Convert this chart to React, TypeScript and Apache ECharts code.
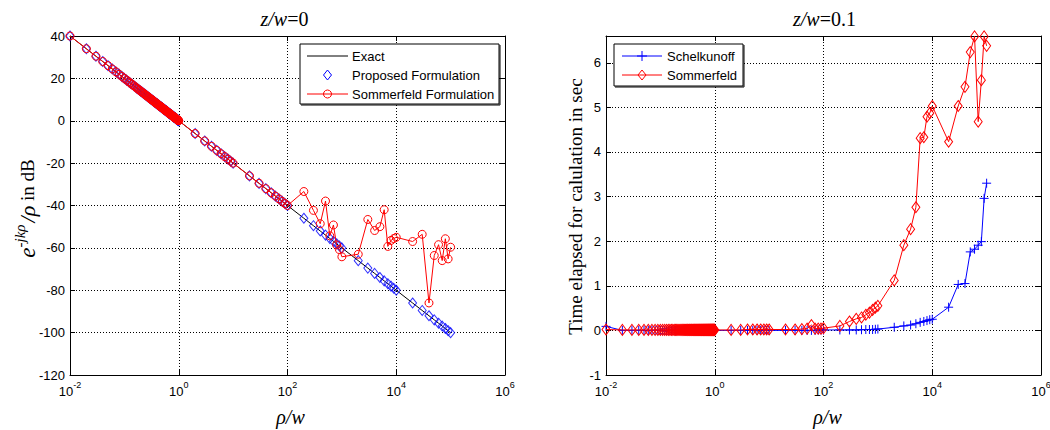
import React, { useEffect, useRef } from "react";
import * as echarts from "echarts";

// ρ/w sample points shared by every curve
const rhoFine = [
  0.01, 0.02, 0.03, 0.04, 0.05, 0.06, 0.07, 0.08, 0.09, 0.1,
  0.11, 0.12, 0.13, 0.14, 0.15, 0.16, 0.17, 0.18, 0.19, 0.2,
  0.21, 0.22, 0.23, 0.24, 0.25, 0.26, 0.27, 0.28, 0.29, 0.3,
  0.31, 0.32, 0.33, 0.34, 0.35, 0.36, 0.37, 0.38, 0.39, 0.4,
  0.41, 0.42, 0.43, 0.44, 0.45, 0.46, 0.47, 0.48, 0.49, 0.5,
  0.51, 0.52, 0.53, 0.54, 0.55, 0.56, 0.57, 0.58, 0.59, 0.6,
  0.61, 0.62, 0.63, 0.64, 0.65, 0.66, 0.67, 0.68, 0.69, 0.7,
  0.71, 0.72, 0.73, 0.74, 0.75, 0.76, 0.77, 0.78, 0.79, 0.8,
  0.81, 0.82, 0.83, 0.84, 0.85, 0.86, 0.87, 0.88, 0.89, 0.9,
  0.91, 0.92, 0.93, 0.94, 0.95, 0.96, 0.97, 0.98, 0.99, 1,
];
const rhoCoarse = [
  2, 3, 4, 5, 6, 7, 8, 9, 10,
  20, 30, 40, 50, 60, 70, 80, 90, 100,
  200, 300, 400, 500, 600, 700, 800, 900, 1000,
  2000, 3000, 4000, 5000, 6000, 7000, 8000, 9000, 10000,
  20000, 30000, 40000, 50000, 60000, 70000, 80000, 90000, 100000,
];
const rhoW = [...rhoFine, ...rhoCoarse];

// e^{-jkρ}/ρ magnitude in dB
const exactDb = [
  40.0, 33.98, 30.46, 27.96, 26.02, 24.44, 23.1, 21.94, 20.92, 20.0,
  19.17, 18.42, 17.72, 17.08, 16.48, 15.92, 15.39, 14.89, 14.42, 13.98,
  13.56, 13.15, 12.77, 12.4, 12.04, 11.7, 11.37, 11.06, 10.75, 10.46,
  10.17, 9.9, 9.63, 9.37, 9.12, 8.87, 8.64, 8.4, 8.18, 7.96,
  7.74, 7.54, 7.33, 7.13, 6.94, 6.74, 6.56, 6.38, 6.2, 6.02,
  5.85, 5.68, 5.51, 5.35, 5.19, 5.04, 4.88, 4.73, 4.58, 4.44,
  4.29, 4.15, 4.01, 3.88, 3.74, 3.61, 3.48, 3.35, 3.22, 3.1,
  2.97, 2.85, 2.73, 2.62, 2.5, 2.38, 2.27, 2.16, 2.05, 1.94,
  1.83, 1.72, 1.62, 1.51, 1.41, 1.31, 1.21, 1.11, 1.01, 0.92,
  0.82, 0.72, 0.63, 0.54, 0.45, 0.35, 0.26, 0.18, 0.09, 0.0,
  -6.02, -9.54, -12.04, -13.98, -15.56, -16.9, -18.06, -19.08, -20.0,
  -26.02, -29.54, -32.04, -33.98, -35.56, -36.9, -38.06, -39.08, -40.0,
  -46.02, -49.54, -52.04, -53.98, -55.56, -56.9, -58.06, -59.08, -60.0,
  -66.02, -69.54, -72.04, -73.98, -75.56, -76.9, -78.06, -79.08, -80.0,
  -86.02, -89.54, -92.04, -93.98, -95.56, -96.9, -98.06, -99.08, -100.0,
];
const proposedDb = [...exactDb];
// Sommerfeld follows the exact curve up to ρ/w = 100, then wanders off
const sommerfeldFarDb = [
  -33.4, -42.3, -48.6, -37.9, -54.3, -49.2, -58.6, -60.8, -64.2,
  -63.0, -46.6, -51.8, -50.0, -42.0, -59.3, -56.5, -55.6, -55.0,
  -57.0, -53.6, -86.0, -63.6, -58.5, -66.0, -55.7, -65.2, -59.7,
];
const sommerfeldDb = [...exactDb.slice(0, 118), ...sommerfeldFarDb];

// calculation time in seconds, z/w = 0.1
const schelkunoffSec = [
  0.09, 0, 0, 0, 0, 0, 0, 0, 0, 0,
  0, 0, 0, 0, 0, 0, 0, 0, 0, 0,
  0, 0, 0, 0, 0, 0, 0, 0, 0, 0,
  0, 0, 0, 0, 0, 0, 0, 0, 0, 0,
  0, 0, 0, 0, 0, 0, 0, 0, 0, 0,
  0, 0, 0, 0, 0, 0, 0, 0, 0, 0,
  0, 0, 0, 0, 0, 0, 0, 0, 0, 0,
  0, 0, 0, 0, 0, 0, 0, 0, 0, 0,
  0, 0, 0, 0, 0, 0, 0, 0, 0, 0,
  0, 0, 0, 0, 0, 0, 0, 0, 0, 0,
  0, 0, 0, 0, 0, 0, 0, 0, 0,
  0, 0, 0, 0, 0, 0, 0.01, 0.01, 0.01,
  0.01, 0.01, 0.01, 0.015, 0.02, 0.02, 0.02, 0.025, 0.03,
  0.07, 0.1, 0.12, 0.15, 0.18, 0.2, 0.22, 0.24, 0.25,
  0.52, 1.03, 1.05, 1.76, 1.82, 1.91, 1.99, 2.96, 3.3,
];
const sommerfeldSec = [
  0.02, 0.01, 0.01, 0.01, 0.01, 0.01, 0.01, 0.01, 0.01, 0.01,
  0.01, 0.01, 0.01, 0.01, 0.01, 0.01, 0.01, 0.01, 0.01, 0.01,
  0.01, 0.01, 0.01, 0.01, 0.01, 0.01, 0.01, 0.01, 0.01, 0.01,
  0.01, 0.01, 0.01, 0.01, 0.01, 0.01, 0.01, 0.01, 0.01, 0.01,
  0.01, 0.01, 0.01, 0.01, 0.01, 0.01, 0.01, 0.01, 0.01, 0.01,
  0.01, 0.01, 0.01, 0.01, 0.01, 0.01, 0.01, 0.01, 0.01, 0.01,
  0.01, 0.01, 0.01, 0.01, 0.01, 0.01, 0.01, 0.01, 0.01, 0.01,
  0.01, 0.01, 0.01, 0.01, 0.01, 0.01, 0.01, 0.01, 0.01, 0.01,
  0.01, 0.01, 0.01, 0.01, 0.01, 0.01, 0.01, 0.01, 0.01, 0.01,
  0.01, 0.01, 0.01, 0.01, 0.01, 0.01, 0.01, 0.01, 0.01, 0.01,
  0.01, 0.01, 0.02, 0.02, 0.02, 0.02, 0.02, 0.02, 0.02,
  0.02, 0.02, 0.03, 0.04, 0.12, 0.04, 0.04, 0.04, 0.05,
  0.1, 0.2, 0.26, 0.29, 0.35, 0.4, 0.46, 0.51, 0.55,
  1.12, 1.91, 2.27, 2.76, 4.31, 4.33, 4.79, 4.87, 5.03,
  4.23, 5.03, 5.46, 6.24, 6.59, 4.68, 5.61, 6.59, 6.38,
];

const dbAxis = { min: -120, max: 40, step: 20 };
const secAxis = { min: -1, max: 6.6, step: 1 };
const rhoAxis = { min: 0.01, max: 1e6 };
// ρ/w ticks, every second decade
const rhoTicks = [0.01, 1, 100, 10000, 1000000];

const legendLeft = ["Exact", "Proposed Formulation", "Sommerfeld Formulation"];
const legendRight = ["Schelkunoff", "Sommerfeld"];

const SANS = '"Liberation Sans", Arial, Helvetica, sans-serif';
const SERIF = '"Liberation Serif", "Times New Roman", Times, serif';
const BLUE = "#0000ff";
const RED = "#ff0000";
const NOFILL = "rgba(0,0,0,0)";

const GRIDS = [
  { left: 70, top: 36, width: 435, height: 339 },
  { left: 606, top: 36, width: 435, height: 339 },
];

const pairs = (ys: number[]) => rhoW.map((x, i) => [x, ys[i]]);

const boxLine = { show: true, onZero: false, lineStyle: { color: "#000", width: 1 } };
const tick = { show: true, inside: true, length: 5, lineStyle: { color: "#000", width: 1 } };
const dotted = { show: true, lineStyle: { color: "#000", width: 1, type: [1, 2] } };

function rhoXAxis(gridIndex: number, mirror: boolean) {
  return {
    type: "log",
    logBase: 10,
    gridIndex,
    position: mirror ? "top" : "bottom",
    min: rhoAxis.min,
    max: rhoAxis.max,
    splitNumber: 4,
    axisLine: boxLine,
    axisTick: { ...tick, customValues: rhoTicks },
    minorTick: { show: false },
    minorSplitLine: { show: false },
    splitLine: mirror ? { show: false } : dotted,
    axisLabel: mirror
      ? { show: false }
      : {
          show: true,
          margin: 5,
          color: "#000",
          customValues: rhoTicks,
          formatter: (v: number) => `{b|10}{s|${Math.round(Math.log10(v))}}`,
          rich: {
            b: { fontFamily: SANS, fontSize: 13, color: "#000", lineHeight: 22 },
            s: { fontFamily: SANS, fontSize: 9, color: "#000", lineHeight: 10, verticalAlign: "top" },
          },
        },
  };
}

function valueYAxis(
  gridIndex: number,
  mirror: boolean,
  ax: { min: number; max: number; step: number },
  showMax: boolean
) {
  return {
    type: "value",
    gridIndex,
    position: mirror ? "right" : "left",
    min: ax.min,
    max: ax.max,
    interval: ax.step,
    axisLine: boxLine,
    axisTick: tick,
    splitLine: mirror ? { show: false } : dotted,
    axisLabel: mirror
      ? { show: false }
      : {
          show: true,
          margin: 5,
          color: "#000",
          fontFamily: SANS,
          fontSize: 13,
          showMinLabel: true,
          showMaxLabel: showMax,
        },
  };
}

// ---- legend helpers (drawn as graphic elements on top of the plots) ----
const txt = (x: number, y: number, text: string) => ({
  type: "text",
  x,
  y,
  z: 101,
  style: { text, fontFamily: SANS, fontSize: 13, fill: "#000", align: "left", verticalAlign: "middle" },
});
const seg = (x1: number, x2: number, y: number, color: string) => ({
  type: "line",
  z: 101,
  shape: { x1, y1: y, x2, y2: y },
  style: { stroke: color, lineWidth: 1 },
});
const diamond = (cx: number, cy: number, color: string) => ({
  type: "polygon",
  z: 102,
  shape: { points: [[cx, cy - 5], [cx + 4, cy], [cx, cy + 5], [cx - 4, cy]] },
  style: { fill: NOFILL, stroke: color, lineWidth: 1 },
});
const ring = (cx: number, cy: number, color: string) => ({
  type: "circle",
  z: 102,
  shape: { cx, cy, r: 4 },
  style: { fill: NOFILL, stroke: color, lineWidth: 1 },
});
const plus = (cx: number, cy: number, color: string) => [
  { type: "line", z: 102, shape: { x1: cx - 5, y1: cy, x2: cx + 5, y2: cy }, style: { stroke: color, lineWidth: 1 } },
  { type: "line", z: 102, shape: { x1: cx, y1: cy - 5, x2: cx, y2: cy + 5 }, style: { stroke: color, lineWidth: 1 } },
];
const legendBox = (x: number, y: number, w: number, h: number) => [
  {
    type: "rect",
    z: 100,
    shape: { x, y, width: w, height: h },
    style: { fill: "#fff", stroke: "#000", lineWidth: 1 },
  },
  { type: "line", z: 100, shape: { x1: x + w + 1, y1: y + 1, x2: x + w + 1, y2: y + h + 1 }, style: { stroke: "#000", lineWidth: 1 } },
  { type: "line", z: 100, shape: { x1: x + 1, y1: y + h + 1, x2: x + w + 1, y2: y + h + 1 }, style: { stroke: "#000", lineWidth: 1 } },
];

const serifRich = (size: number) => ({
  i: { fontFamily: SERIF, fontStyle: "italic", fontSize: size, fill: "#000" },
  n: { fontFamily: SERIF, fontSize: size, fill: "#000" },
});

function buildOption() {
  const g0 = GRIDS[0];
  const g1 = GRIDS[1];
  const c0 = g0.left + g0.width / 2;
  const c1 = g1.left + g1.width / 2;
  const midY = g0.top + g0.height / 2;

  const graphic: any[] = [
    // panel titles
    { type: "text", x: c0 - 3, y: 19, style: { text: "{i|z/w}{n|=0}", rich: serifRich(20), align: "center", verticalAlign: "middle" } },
    { type: "text", x: c1 + 1, y: 19, style: { text: "{i|z/w}{n|=0.1}", rich: serifRich(20), align: "center", verticalAlign: "middle" } },
    // x-axis names
    { type: "text", x: c0 + 3, y: 417, style: { text: "{i|ρ/w}", rich: serifRich(20), align: "center", verticalAlign: "middle" } },
    { type: "text", x: c1 + 4, y: 417, style: { text: "{i|ρ/w}", rich: serifRich(20), align: "center", verticalAlign: "middle" } },
    // y-axis names
    {
      type: "text",
      x: 27,
      y: midY + 3,
      rotation: Math.PI / 2,
      style: {
        text: "{e|e}{s|-jkρ}{i|/ρ}{n| in dB}",
        align: "center",
        verticalAlign: "middle",
        rich: {
          e: { fontFamily: SERIF, fontStyle: "italic", fontSize: 23, lineHeight: 30, fill: "#000" },
          s: { fontFamily: SERIF, fontStyle: "italic", fontSize: 15, lineHeight: 15, verticalAlign: "top", fill: "#000" },
          i: { fontFamily: SERIF, fontStyle: "italic", fontSize: 22, lineHeight: 30, fill: "#000", padding: [0, 0, 0, 2] },
          n: { fontFamily: SERIF, fontSize: 19, lineHeight: 30, fill: "#000" },
        },
      },
    },
    {
      type: "text",
      x: 575,
      y: midY + 1,
      rotation: Math.PI / 2,
      style: {
        text: "Time elapsed for calulation in sec",
        fontFamily: SERIF,
        fontSize: 19,
        fill: "#000",
        align: "center",
        verticalAlign: "middle",
      },
    },
    // left legend
    ...legendBox(300, 44, 199, 60),
    seg(307, 348, 56, "#000"),
    txt(352, 56, legendLeft[0]),
    diamond(327.5, 75, BLUE),
    txt(352, 75, legendLeft[1]),
    seg(307, 348, 94, RED),
    ring(327.5, 94, RED),
    txt(352, 94, legendLeft[2]),
    // right legend
    ...legendBox(614, 44, 129, 42),
    seg(622, 662, 56, BLUE),
    ...plus(642, 56, BLUE),
    txt(667, 56, legendRight[0]),
    seg(622, 662, 75, RED),
    diamond(642, 75, RED),
    txt(667, 75, legendRight[1]),
  ];

  return {
    animation: false,
    backgroundColor: "#fff",
    grid: GRIDS.map((g) => ({ ...g, containLabel: false, outerBoundsMode: "none", show: false })),
    xAxis: [rhoXAxis(0, false), rhoXAxis(0, true), rhoXAxis(1, false), rhoXAxis(1, true)],
    yAxis: [
      valueYAxis(0, false, dbAxis, true),
      valueYAxis(0, true, dbAxis, true),
      valueYAxis(1, false, secAxis, false),
      valueYAxis(1, true, secAxis, false),
    ],
    series: [
      {
        name: legendLeft[0],
        type: "line",
        xAxisIndex: 0,
        yAxisIndex: 0,
        data: pairs(exactDb),
        symbol: "none",
        lineStyle: { color: "#000", width: 1 },
        z: 2,
      },
      {
        name: legendLeft[1],
        type: "scatter",
        xAxisIndex: 0,
        yAxisIndex: 0,
        data: pairs(proposedDb),
        symbol: "diamond",
        symbolSize: [8, 10],
        itemStyle: { color: NOFILL, borderColor: BLUE, borderWidth: 1 },
        z: 3,
      },
      {
        name: legendLeft[2],
        type: "line",
        xAxisIndex: 0,
        yAxisIndex: 0,
        data: pairs(sommerfeldDb),
        symbol: "circle",
        symbolSize: 8,
        showSymbol: true,
        showAllSymbol: true,
        lineStyle: { color: RED, width: 1 },
        itemStyle: { color: NOFILL, borderColor: RED, borderWidth: 1 },
        z: 4,
      },
      {
        name: legendRight[0],
        type: "line",
        xAxisIndex: 2,
        yAxisIndex: 2,
        data: pairs(schelkunoffSec),
        symbol: "path://M0,5L10,5M5,0L5,10",
        symbolSize: 9,
        showSymbol: true,
        showAllSymbol: true,
        lineStyle: { color: BLUE, width: 1 },
        itemStyle: { color: NOFILL, borderColor: BLUE, borderWidth: 1 },
        z: 3,
      },
      {
        name: legendRight[1],
        type: "line",
        xAxisIndex: 2,
        yAxisIndex: 2,
        data: pairs(sommerfeldSec),
        symbol: "diamond",
        symbolSize: [8, 11],
        showSymbol: true,
        showAllSymbol: true,
        lineStyle: { color: RED, width: 1 },
        itemStyle: { color: NOFILL, borderColor: RED, borderWidth: 1 },
        z: 4,
      },
    ],
    graphic,
  };
}

export default function App() {
  const ref = useRef<HTMLDivElement>(null);
  useEffect(() => {
    if (!ref.current) return;
    const chart = echarts.init(ref.current, undefined, { renderer: "svg" });
    chart.setOption(buildOption() as any);
    return () => chart.dispose();
  }, []);
  return (
    <div
      ref={ref}
      style={{ position: "fixed", left: 0, top: 0, width: 1050, height: 430, background: "#fff" }}
    />
  );
}
